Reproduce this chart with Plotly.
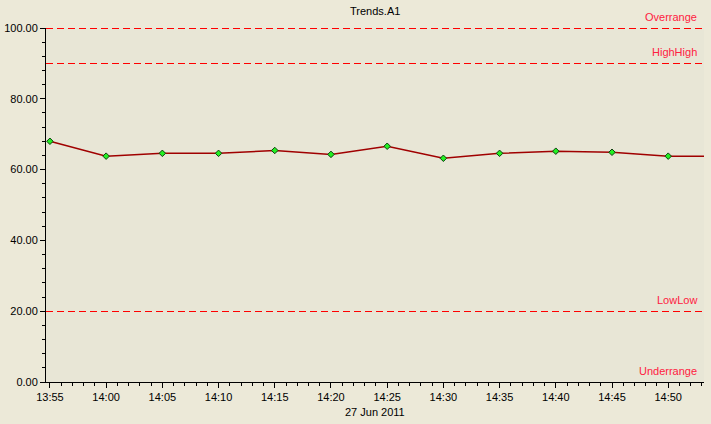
import plotly.graph_objects as go

times = ["2011-06-27 13:55", "2011-06-27 14:00", "2011-06-27 14:05", "2011-06-27 14:10",
         "2011-06-27 14:15", "2011-06-27 14:20", "2011-06-27 14:25", "2011-06-27 14:30",
         "2011-06-27 14:35", "2011-06-27 14:40", "2011-06-27 14:45", "2011-06-27 14:50",
         "2011-06-27 14:55"]
values = [68.0, 63.8, 64.6, 64.6, 65.4, 64.3, 66.6, 63.2, 64.6, 65.2, 64.9, 63.8, 63.8]

limit_names = ["Overrange", "HighHigh", "LowLow", "Underrange"]
limit_values = [100, 90, 20, 0]

title_text = "Trends.A1"
date_text = "27 Jun 2011"

FONT = "Liberation Sans"

fig = go.Figure()
fig.add_trace(go.Scatter(
    x=times, y=values, mode="lines+markers",
    line=dict(color="#A00000", width=1.5),
    marker=dict(symbol="diamond", size=5, color="#22F022", line=dict(color="#104010", width=1)),
    showlegend=False,
))

for name, v in zip(limit_names, limit_values):
    fig.add_shape(type="line", xref="paper", x0=0, x1=1, yref="y", y0=v, y1=v,
                  line=dict(color="#FF0000", width=1, dash="7px,4px"), layer="above")
    fig.add_annotation(xref="paper", x=0.992, yref="y", y=v, yshift=11,
                       text=name, showarrow=False, xanchor="right", yanchor="middle",
                       font=dict(family=FONT, size=11, color="#FF2040"))

fig.add_annotation(xref="paper", x=0.5, yref="paper", y=1, yshift=17,
                   text=title_text, showarrow=False, xanchor="center", yanchor="middle",
                   font=dict(family=FONT, size=11, color="#000000"))
fig.add_annotation(xref="paper", x=0.5, yref="paper", y=0, yshift=-30,
                   text=date_text, showarrow=False, xanchor="center", yanchor="middle",
                   font=dict(family=FONT, size=11, color="#000000"))

fig.update_layout(
    width=711, height=424,
    margin=dict(l=46, r=7, t=28, b=42, autoexpand=False),
    paper_bgcolor="#ECE9D8",
    plot_bgcolor="#E8E6D6",
    font=dict(family=FONT, size=11, color="#000000"),
)
fig.update_xaxes(
    type="date", automargin=False,
    range=["2011-06-27 13:54:39", "2011-06-27 14:53:11"],
    tickformat="%H:%M", dtick=300000, tick0="2011-06-27 13:55",
    ticks="outside", ticklen=5, tickcolor="#000000",
    minor=dict(dtick=60000, ticks="outside", ticklen=3, tickcolor="#000000", showgrid=False),
    showline=True, linecolor="#000000", linewidth=1,
    showgrid=False, zeroline=False,
)
fig.update_yaxes(
    range=[0, 100], automargin=False,
    tickformat=".2f", dtick=20,
    ticks="outside", ticklen=5, tickcolor="#000000",
    minor=dict(dtick=4, ticks="outside", ticklen=3, tickcolor="#000000", showgrid=False),
    showline=True, linecolor="#000000", linewidth=1,
    showgrid=False, zeroline=False,
)

post = (
    "document.body.style.margin='0';document.body.style.overflow='hidden';"
    "document.querySelectorAll('.shapelayer path').forEach(function(p){p.style.shapeRendering='crispEdges';});"
)
fig.write_html("out.html", post_script=post, config={"displayModeBar": False})
